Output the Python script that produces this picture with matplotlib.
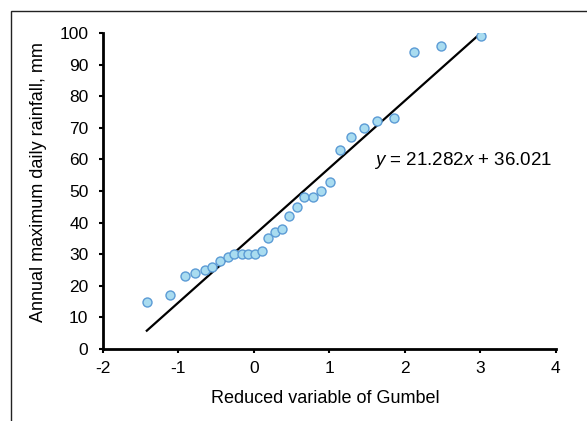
import matplotlib
matplotlib.use("Agg")
import matplotlib.pyplot as plt
from matplotlib.patches import Rectangle
import numpy as np

plt.rcParams['font.family'] = ['Liberation Sans', 'DejaVu Sans']
plt.rcParams['mathtext.fontset'] = 'custom'
plt.rcParams['mathtext.rm'] = 'Liberation Sans'
plt.rcParams['mathtext.it'] = 'Liberation Sans:italic'
plt.rcParams['axes.unicode_minus'] = False

# reduced Gumbel variate and annual max daily rainfall (mm)
gumbel_x = [-1.42, -1.11, -0.92, -0.78, -0.655, -0.55, -0.447, -0.35, -0.265,
            -0.164, -0.076, 0.013, 0.10, 0.19, 0.28, 0.37, 0.47, 0.565, 0.667,
            0.777, 0.889, 1.008, 1.14, 1.286, 1.454, 1.635, 1.857, 2.126, 2.48, 3.01]
rainfall = [15, 17, 23, 24, 25, 26, 28, 29, 30, 30, 30, 30, 31, 35, 37, 38, 42,
            45, 48, 48, 50, 53, 63, 67, 70, 72, 73, 94, 96, 99]

slope = 21.282
intercept = 36.021

x_ticks = [-2, -1, 0, 1, 2, 3, 4]
y_ticks = list(range(0, 101, 10))

fig = plt.figure(figsize=(5.87, 4.21), dpi=100)
ax = fig.add_axes([0.1755, 0.171, 0.7715, 0.7506])

xs = np.array([min(gumbel_x), max(gumbel_x)])
ax.plot(xs, slope * xs + intercept, color='black', lw=1.6, zorder=2)
ax.scatter(gumbel_x, rainfall, s=42, facecolor='#A9DCF0', edgecolor='#5B9BD5',
           linewidth=1.0, zorder=3)

ax.set_xlim(-2, 4)
ax.set_ylim(0, 100)
ax.set_xticks(x_ticks)
ax.set_yticks(y_ticks)
ax.tick_params(direction='out', length=3, width=1.5, labelsize=12.5)
ax.tick_params(axis='x', pad=5.5)
ax.tick_params(axis='y', pad=7.5)
for s in ['top', 'right']:
    ax.spines[s].set_visible(False)
for s in ['left', 'bottom']:
    ax.spines[s].set_linewidth(2)

ax.set_xlabel('Reduced variable of Gumbel', fontsize=13)
ax.xaxis.set_label_coords(0.491, -0.130)
ax.set_ylabel('Annual maximum daily rainfall, mm', fontsize=13)
ax.yaxis.set_label_coords(-0.124, 0.527)

ax.text(2.776, 59.6, r'$y$ = 21.282$x$ + 36.021', fontsize=13.5, ha='center', va='center')

fig.patches.append(Rectangle((11 / 587, -0.05), 1.2, (421 - 11) / 421 + 0.05,
                             transform=fig.transFigure, fill=False,
                             edgecolor='#222222', lw=1.0))

fig.savefig('out.png', dpi=100)
